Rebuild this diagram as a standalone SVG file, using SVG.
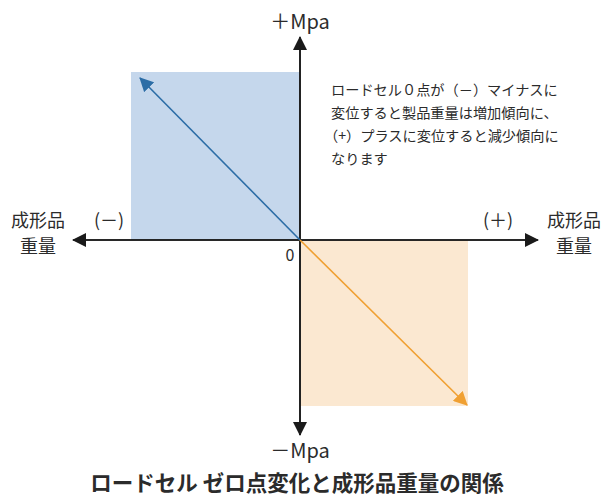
<svg xmlns="http://www.w3.org/2000/svg" width="602" height="502" viewBox="0 0 602 502">
<style>
.t{font-family:"Noto Sans CJK JP","Noto Sans",sans-serif;fill:#2b2b2b}
.ax{stroke:#1a1a1a;stroke-width:1.6;fill:none}
</style>
<defs>
<marker id="akL" viewBox="0 0 14 14" refX="13" refY="7" markerWidth="14" markerHeight="14" markerUnits="userSpaceOnUse" orient="auto"><path d="M0,0L14,7L0,14z" fill="#1a1a1a"/></marker>
<marker id="ab" viewBox="0 0 14 14" refX="13" refY="7" markerWidth="14" markerHeight="14" markerUnits="userSpaceOnUse" orient="auto"><path d="M0,0L14,7L0,14z" fill="#2c6da6"/></marker>
<marker id="ao" viewBox="0 0 14 14" refX="13" refY="7" markerWidth="14" markerHeight="14" markerUnits="userSpaceOnUse" orient="auto"><path d="M0,0L14,7L0,14z" fill="#f0a032"/></marker>
</defs>
<rect width="602" height="502" fill="#ffffff"/>
<g id="quadrants">
<rect x="131" y="72" width="169" height="168" fill="#c5d7ec"/>
<rect x="300" y="240" width="168" height="166" fill="#fbe8d1"/>
</g>
<g id="connectors">
<line class="ax" x1="300" y1="435" x2="300" y2="37" marker-end="url(#akL)"/>
<line class="ax" x1="300" y1="45" x2="300" y2="435" marker-end="url(#akL)"/>
<line class="ax" x1="75" y1="240" x2="538" y2="240" marker-end="url(#akL)"/>
<line class="ax" x1="530" y1="240" x2="73" y2="240" marker-end="url(#akL)"/>
<line x1="300" y1="240" x2="140" y2="78" stroke="#2c6da6" stroke-width="1.6" marker-end="url(#ab)"/>
<line x1="300" y1="240" x2="467" y2="405" stroke="#f0a032" stroke-width="1.6" marker-end="url(#ao)"/>
</g>
<g id="labels">
<text class="t" x="300" y="29" font-size="20" text-anchor="middle">＋Mpa</text>
<text class="t" x="300" y="458" font-size="20" text-anchor="middle">－Mpa</text>
<text class="t" x="290" y="261" font-size="16" text-anchor="middle">0</text>
<text class="t" x="38" y="227" font-size="18" text-anchor="middle">成形品</text>
<text class="t" x="38" y="253" font-size="18" text-anchor="middle">重量</text>
<text class="t" x="574" y="227" font-size="18" text-anchor="middle">成形品</text>
<text class="t" x="574" y="253" font-size="18" text-anchor="middle">重量</text>
<text class="t" x="109" y="227" font-size="18" text-anchor="middle">(－)</text>
<text class="t" x="498" y="227" font-size="18" text-anchor="middle">(＋)</text>
</g>
<g id="note">
<text class="t" x="331" y="95" font-size="14.2">ロードセル０点が（－）マイナスに</text>
<text class="t" x="331" y="118" font-size="14.2">変位すると製品重量は増加傾向に、</text>
<text class="t" x="324" y="141" font-size="14.2">（+）プラスに変位すると減少傾向に</text>
<text class="t" x="331" y="164" font-size="14.2">なります</text>
</g>
<g id="title">
<text class="t" x="297" y="491" font-size="21.5" font-weight="bold" text-anchor="middle">ロードセル ゼロ点変化と成形品重量の関係</text>
</g>
</svg>
